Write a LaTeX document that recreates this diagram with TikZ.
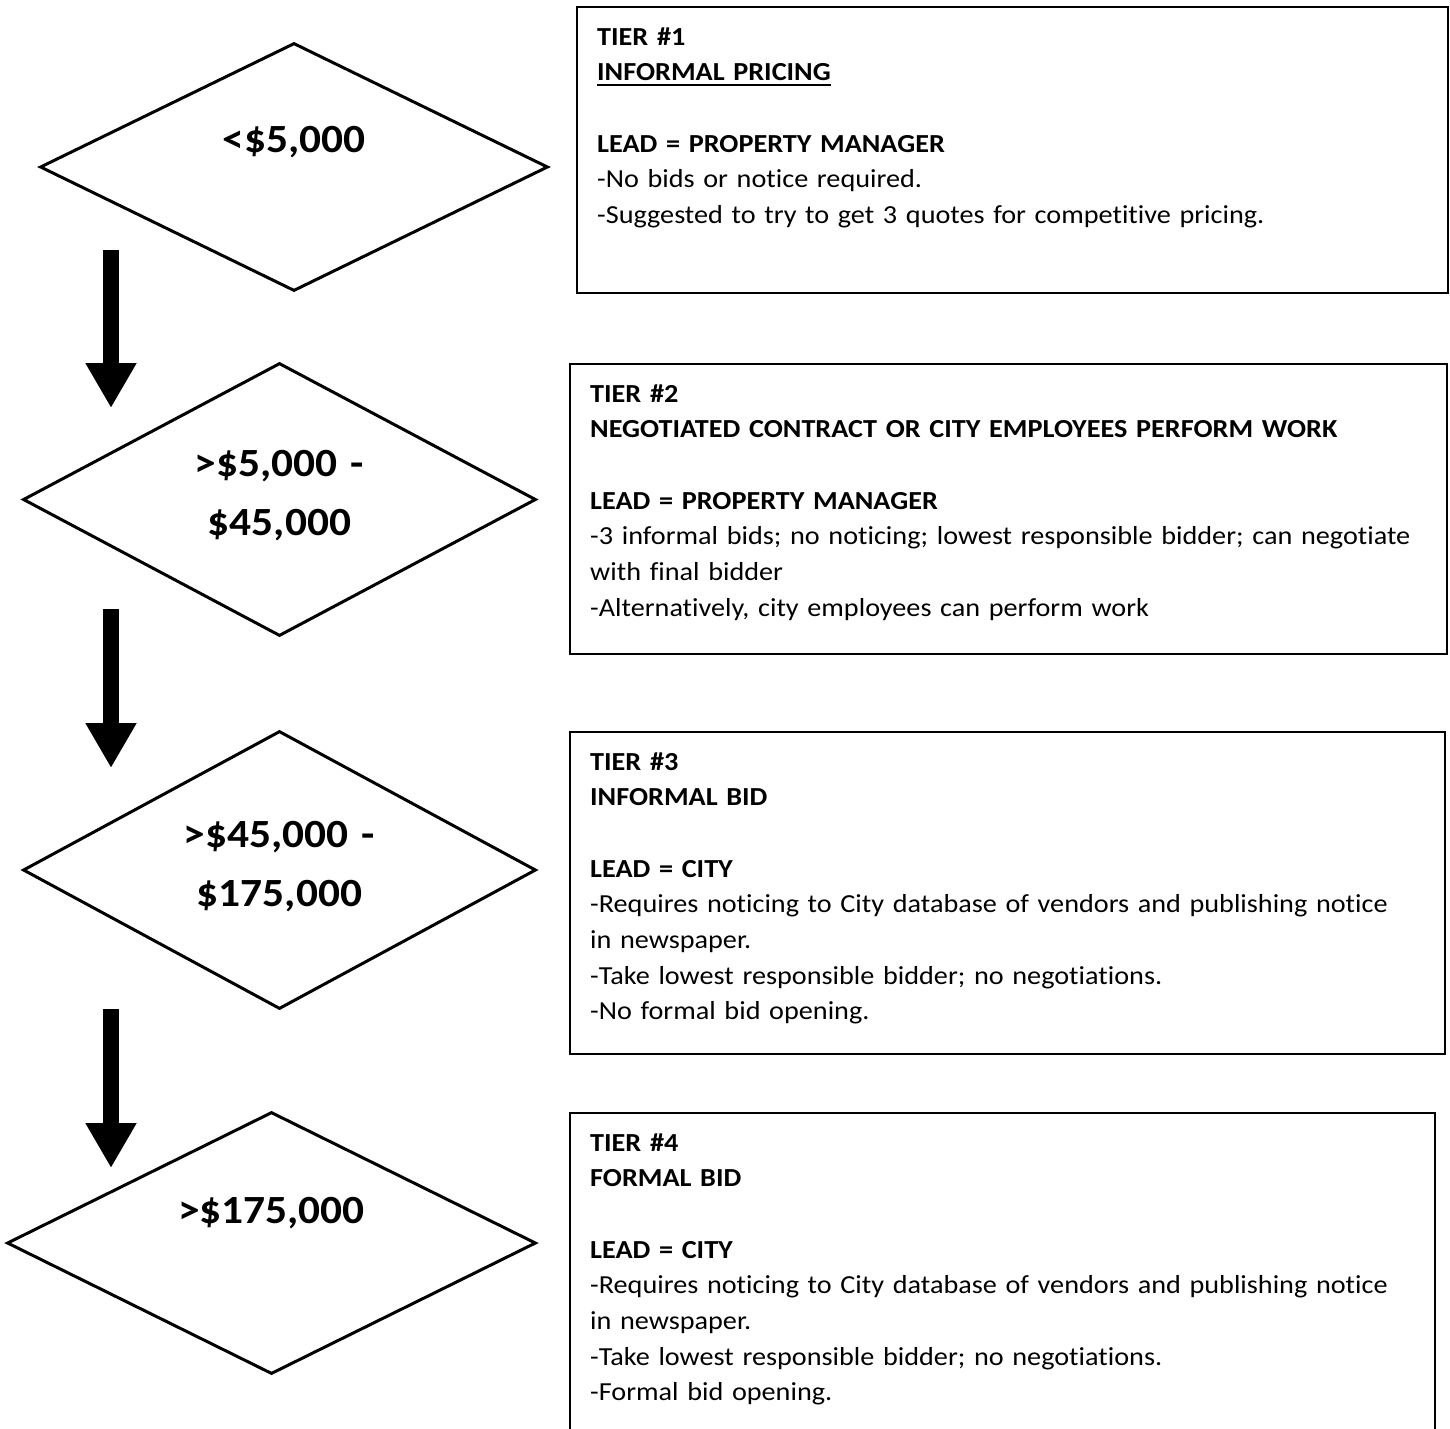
\documentclass[tikz,border=0pt]{standalone}
\usepackage{fontspec}
\setmainfont{Carlito}[Ligatures=NoCommon, FakeStretch=1.085]
\usetikzlibrary{shapes.geometric,arrows.meta,positioning,calc}
\newcommand{\tierul}[1]{\setbox0=\hbox{#1}\rlap{\rule[-5pt]{\wd0}{2pt}}\box0}

\begin{document}
\begin{tikzpicture}[x=1pt,y=-1pt,
  valdiamond/.style={diamond, draw, line width=3pt, inner sep=0pt},
  valtext/.style={anchor=base, inner sep=0pt, text width=320pt, align=center, font=\fontsize{40}{59}\selectfont\bfseries},
  tierbox/.style={rectangle, draw, line width=1.6pt, anchor=north west, inner sep=0pt},
  tiertext/.style={anchor=base west, inner sep=0pt, text width=855pt, align=left, font=\fontsize{26}{35.7}\selectfont},
  downarrow/.style={line width=16pt, -{Triangle[width=48pt,length=45pt]}}]
\path[use as bounding box] (0,0) rectangle (1450,1428);
\clip (0,0) rectangle (1450,1428);

% Importi
\node[valdiamond, minimum width=508pt, minimum height=248pt] (d1) at (294,167) {};
\node[valdiamond, minimum width=513pt, minimum height=273pt] (d2) at (279.5,499.5) {};
\node[valdiamond, minimum width=513pt, minimum height=278pt] (d3) at (279.5,870) {};
\node[valdiamond, minimum width=529pt, minimum height=262pt] (d4) at (271.5,1243) {};

\node[valtext] (v1) at ([yshift=15pt]d1.center) {<\$5,000};
\node[valtext] (v2) at ([yshift=23pt]d2.center) {>\$5,000 -\\\$45,000};
\node[valtext] (v3) at ([yshift=23pt]d3.center) {>\$45,000 -\\\$175,000};
\node[valtext] (v4) at ([yshift=20pt]d4.center) {>\$175,000};

% Frecce
\coordinate (a1) at (111,250);
\coordinate (b1) at (111,408);
\coordinate (a2) at (111,609);
\coordinate (b2) at (111,768);
\coordinate (a3) at (111,1009);
\coordinate (b3) at (111,1168);
\draw[downarrow] (a1) -- (b1);
\draw[downarrow] (a2) -- (b2);
\draw[downarrow] (a3) -- (b3);

% Livelli
\node[tierbox, minimum width=871pt, minimum height=286pt] (tier1) at (576,6) {};
\node[tierbox, minimum width=877pt, minimum height=290pt] (tier2) at (569,363) {};
\node[tierbox, minimum width=875pt, minimum height=322pt] (tier3) at (569,731) {};
\node[tierbox, minimum width=865pt, minimum height=340pt] (tier4) at (569,1112) {};

\node[tiertext] (txt1) at ([shift={(21pt,-39pt)}]tier1.north west) {\textbf{TIER \#1}\\
  \textbf{\tierul{INFORMAL PRICING}}\\[35.7pt]
  \textbf{LEAD = PROPERTY MANAGER}\\
  -No bids or notice required.\\
  -Suggested to try to get 3 quotes for competitive pricing.};
\node[tiertext] (txt2) at ([shift={(21pt,-39pt)}]tier2.north west) {\textbf{TIER \#2}\\
  \textbf{NEGOTIATED CONTRACT OR CITY EMPLOYEES PERFORM WORK}\\[35.7pt]
  \textbf{LEAD = PROPERTY MANAGER}\\
  -3 informal bids; no noticing; lowest responsible bidder; can negotiate\\
  with final bidder\\
  -Alternatively, city employees can perform work};
\node[tiertext] (txt3) at ([shift={(21pt,-39pt)}]tier3.north west) {\textbf{TIER \#3}\\
  \textbf{INFORMAL BID}\\[35.7pt]
  \textbf{LEAD = CITY}\\
  -Requires noticing to City database of vendors and publishing notice\\
  in newspaper.\\
  -Take lowest responsible bidder; no negotiations.\\
  -No formal bid opening.};
\node[tiertext] (txt4) at ([shift={(21pt,-39pt)}]tier4.north west) {\textbf{TIER \#4}\\
  \textbf{FORMAL BID}\\[35.7pt]
  \textbf{LEAD = CITY}\\
  -Requires noticing to City database of vendors and publishing notice\\
  in newspaper.\\
  -Take lowest responsible bidder; no negotiations.\\
  -Formal bid opening.};
\end{tikzpicture}
\end{document}
